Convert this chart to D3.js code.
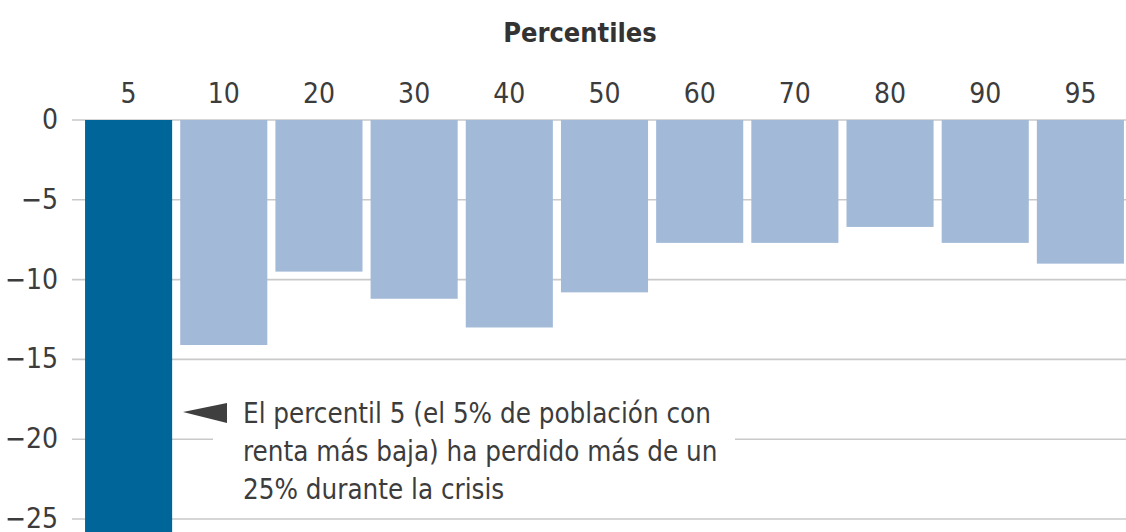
<!DOCTYPE html>
<html>
<head>
<meta charset="utf-8">
<script src="https://cdn.jsdelivr.net/npm/d3@7"></script>
<style>
  body { margin: 0; background: #fff; }
  text { font-family: "Liberation Sans Narrow", "DejaVu Sans Condensed", Roboto, sans-serif; }
</style>
</head>
<body>
<div id="chart"></div>
<script>
var percentiles = ['5', '10', '20', '30', '40', '50', '60', '70', '80', '90', '95']
var change = [-27, -14.1, -9.5, -11.2, -13.0, -10.8, -7.7, -7.7, -6.7, -7.7, -9.0]
var yTicks = [0, -5, -10, -15, -20, -25]
var note = ['El percentil 5 (el 5% de población con',
            'renta más baja) ha perdido más de un',
            '25% durante la crisis']

var width = 1126, height = 532

var svg = d3.select('#chart')
    .append('svg')
    .attr('width', width)
    .attr('height', height)

var x = d3.scaleBand()
    .domain(percentiles)
    .range([81, 1128])
    .paddingInner(0.085)
    .paddingOuter(0.0425)

var y = d3.scaleLinear()
    .domain([0, -25])
    .range([120, 519])

// grid
svg.append('g')
    .selectAll('line')
    .data(yTicks)
    .enter()
    .append('line')
    .attr('x1', 72)
    .attr('x2', width)
    .attr('y1', function(d) { return y(d) })
    .attr('y2', function(d) { return y(d) })
    .style('stroke', '#c9c9c9')
    .style('stroke-width', 1.6)

svg.append('g')
    .selectAll('text')
    .data(yTicks)
    .enter()
    .append('text')
    .attr('x', 58)
    .attr('y', function(d) { return y(d) })
    .attr('dy', '0.32em')
    .attr('text-anchor', 'end')
    .style('font-size', '28px')
    .style('fill', '#3c3c3c')
    .text(d3.format('d'))

// bars
svg.append('g')
    .selectAll('rect')
    .data(change)
    .enter()
    .append('rect')
    .attr('x', function(d, i) { return x(percentiles[i]) })
    .attr('width', x.bandwidth())
    .attr('y', y(0))
    .attr('height', function(d) { return y(d) - y(0) })
    .style('fill', function(d, i) { return i === 0 ? '#006699' : '#a2bad8' })

// top labels
svg.append('g')
    .selectAll('text')
    .data(percentiles)
    .enter()
    .append('text')
    .attr('x', function(d) { return x(d) + x.bandwidth() / 2 })
    .attr('y', 103)
    .attr('text-anchor', 'middle')
    .style('font-size', '28px')
    .style('fill', '#3c3c3c')
    .text(function(d) { return d })

svg.append('text')
    .attr('x', 580)
    .attr('y', 42)
    .attr('text-anchor', 'middle')
    .style('font-size', '27px')
    .style('font-weight', 'bold')
    .style('fill', '#333')
    .text('Percentiles')

// annotation
svg.append('rect')
    .attr('x', 213)
    .attr('y', 390)
    .attr('width', 522)
    .attr('height', 120)
    .style('fill', '#fff')

svg.append('polygon')
    .attr('points', '183,412 227,403 227,423')
    .style('fill', '#3f3f3f')

svg.append('g')
    .selectAll('text')
    .data(note)
    .enter()
    .append('text')
    .attr('x', 243)
    .attr('y', function(d, i) { return 423 + i * 38 })
    .style('font-size', '27.5px')
    .style('fill', '#3c3c3c')
    .text(function(d) { return d })
</script>
</body>
</html>
